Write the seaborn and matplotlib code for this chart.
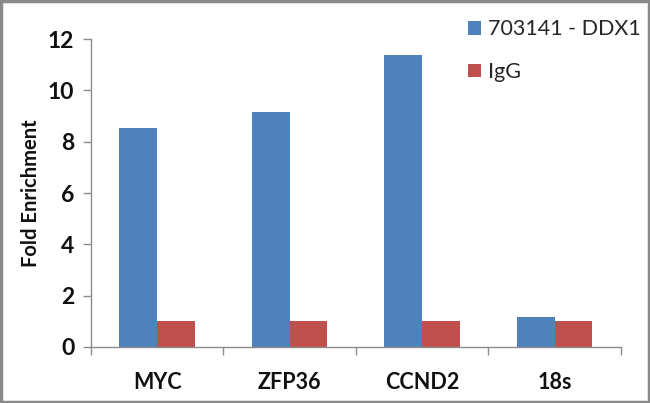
import matplotlib
matplotlib.use("Agg")
import matplotlib.pyplot as plt
import seaborn as sns
import pandas as pd
from matplotlib.patches import Patch, Rectangle

categories = ["MYC", "ZFP36", "CCND2", "18s"]
ddx1_values = [8.52, 9.17, 11.37, 1.15]
igg_values = [1.0, 1.0, 1.0, 1.0]
series_names = ["703141 - DDX1", "IgG"]
y_ticks = [0, 2, 4, 6, 8, 10, 12]
colors = ["#4F81BD", "#C0504D"]

df = pd.DataFrame({
    "gene": categories * 2,
    "value": ddx1_values + igg_values,
    "series": [series_names[0]] * len(categories) + [series_names[1]] * len(categories),
})

sns.set_theme(style="white")
plt.rcParams["font.family"] = ["Lato", "DejaVu Sans"]

fig = plt.figure(figsize=(6.5, 4.03), dpi=100)
ax = fig.add_axes([0.14, 0.139, 0.815, 0.764])

sns.barplot(data=df, x="gene", y="value", hue="series", palette=colors,
            width=0.57, saturation=1, ax=ax, legend=False, errorbar=None,
            linewidth=0)

ax.set_ylim(0, 12)
ax.set_xlim(-0.5, 3.5)
ax.set_yticks(y_ticks)
ax.set_yticklabels([str(t) for t in y_ticks], fontsize=16.5, fontweight="bold", color="#111111")
ax.set_xticks(range(len(categories)))
ax.set_xticklabels(categories, fontsize=15.5, fontweight="bold", color="#111111")
ax.set_xticks([-0.5, 0.5, 1.5, 2.5, 3.5], minor=True)
ax.tick_params(axis="x", which="major", length=0, pad=18)
ax.tick_params(axis="x", which="minor", length=6, width=1, color="#8c8c8c", direction="out", bottom=True)
ax.tick_params(axis="y", which="major", length=6, width=1, color="#8c8c8c", direction="out", left=True, pad=6)
ax.set_xlabel("")
ax.set_ylabel("Fold Enrichment", fontsize=14.5, fontweight="bold", color="#111111", labelpad=5)

for side in ["top", "right"]:
    ax.spines[side].set_visible(False)
for side in ["left", "bottom"]:
    ax.spines[side].set_color("#8c8c8c")
    ax.spines[side].set_linewidth(1)

handles = [Patch(facecolor=c, edgecolor="none") for c in colors]
fig.legend(handles, series_names, loc="upper left", bbox_to_anchor=(0.69, 1.0),
           frameon=False, handlelength=0.6, handleheight=0.6,
           handletextpad=0.35, labelspacing=1.05,
           prop={"size": 15.5})

fig.patches.append(Rectangle((0.002, 0.003), 0.996, 0.994, transform=fig.transFigure,
                             fill=False, edgecolor="#8a8a8a", linewidth=2.5))

fig.savefig("out.png", dpi=100)
